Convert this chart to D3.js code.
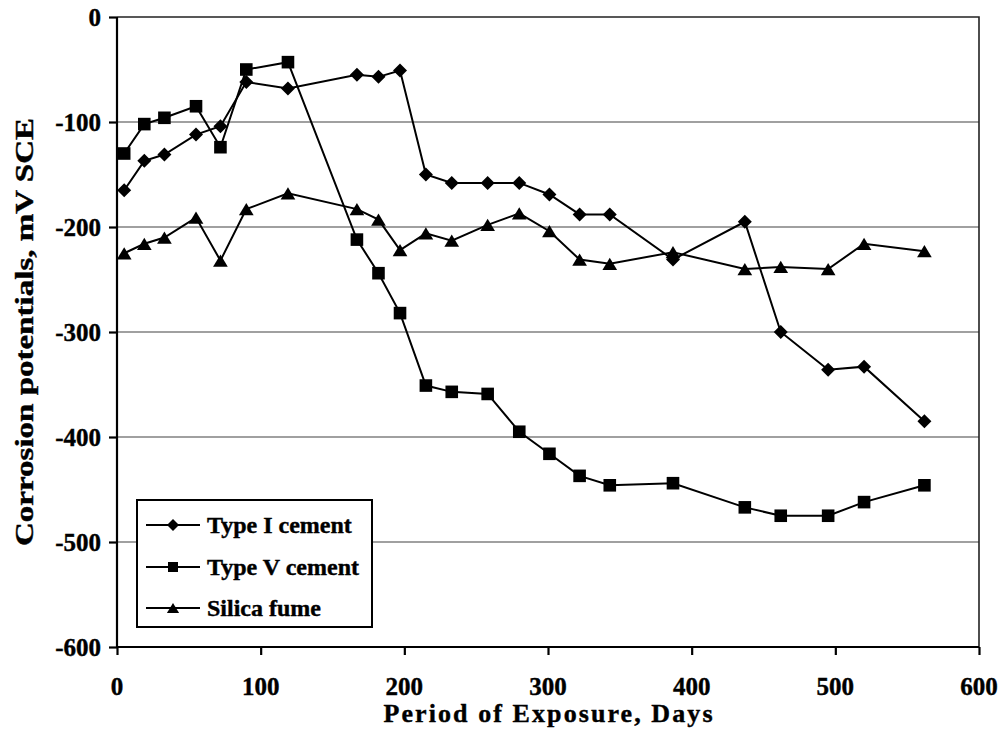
<!DOCTYPE html>
<html>
<head>
<meta charset="utf-8">
<script src="https://cdn.jsdelivr.net/npm/d3@7"></script>
<style>
  html, body { margin: 0; padding: 0; background: #fff; }
  svg { display: block; }
</style>
</head>
<body>
<svg id="chart" width="1004" height="733"></svg>
<script>
// Exposure days at each measurement
const days = [5, 19, 33, 55, 72, 90, 119, 167, 182, 197, 215, 233, 258, 280, 301, 322, 343, 387, 437, 462, 495, 520, 562];

// Corrosion potentials (mV SCE)
const typeI  = [-165, -137, -131, -112, -104, -62, -68, -55, -57, -51, -150, -158, -158, -158, -169, -188, -188, -231, -195, -300, -336, -333, -385];
const typeV  = [-130, -102, -96, -85, -124, -50, -43, -212, -244, -282, -351, -357, -359, -395, -416, -437, -446, -444, -467, -475, -475, -462, -446];
const silica = [-225, -216, -210, -191, -232, -183, -168, -183, -193, -222, -206, -213, -198, -187, -204, -231, -235, -224, -240, -238, -240, -216, -223];

const seriesNames = ["Type I cement", "Type V cement", "Silica fume"];
const seriesShapes = ["diamond", "square", "triangle"];

const xTicks = [0, 100, 200, 300, 400, 500, 600];
const yTicks = [0, -100, -200, -300, -400, -500, -600];

const xTitle = "Period of Exposure, Days";
const yTitle = "Corrosion potentials, mV SCE";

const FONT = "'Liberation Serif', 'Times New Roman', serif";

const svg = d3.select("#chart");
const plotL = 117, plotR = 979, plotT = 17, plotB = 647;

const x = d3.scaleLinear().domain([0, 600]).range([plotL, plotR]);
const y = d3.scaleLinear().domain([0, -600]).range([plotT, plotB]);

// marker outlines centred on the origin
function shapePath(kind, s) {
  if (kind === "diamond") return `M0,${-s}L${s},0L0,${s}L${-s},0Z`;
  if (kind === "square") return `M${-s},${-s}H${s}V${s}H${-s}Z`;
  const h = s * 1.75, w = s * 2.1;
  return `M0,${-h / 2}L${w / 2},${h / 2}L${-w / 2},${h / 2}Z`;
}
const plotSize = { diamond: 7, square: 6.3, triangle: 7 };
const legendSize = { diamond: 6, square: 5, triangle: 5.8 };

function label(sel) {
  return sel.attr("font-family", FONT).attr("font-weight", "bold")
    .attr("fill", "#000").attr("stroke", "#000").attr("stroke-width", 0.4);
}

svg.append("rect").attr("width", 1004).attr("height", 733).attr("fill", "#fff");

// horizontal gridlines
svg.append("g")
  .selectAll("line")
  .data(yTicks.filter(v => v !== 0 && v !== -600))
  .join("line")
  .attr("x1", plotL).attr("x2", plotR)
  .attr("y1", d => y(d)).attr("y2", d => y(d))
  .attr("stroke", "#808080").attr("stroke-width", 1.4);

// plot frame (top and right)
svg.append("path")
  .attr("d", `M${plotL},${plotT}H${plotR}V${plotB}`)
  .attr("fill", "none").attr("stroke", "#222").attr("stroke-width", 1.6);

// axes
const xAxis = d3.axisBottom(x).tickValues(xTicks).tickSize(8).tickFormat("");
const yAxis = d3.axisLeft(y).tickValues(yTicks).tickSize(8).tickFormat("");

const gx = svg.append("g").attr("transform", `translate(0,${plotB})`).call(xAxis);
const gy = svg.append("g").attr("transform", `translate(${plotL},0)`).call(yAxis);
[gx, gy].forEach(g => {
  g.select(".domain").attr("stroke", "#000").attr("stroke-width", 2.2);
  g.selectAll(".tick line").attr("stroke", "#000").attr("stroke-width", 2.2);
});
gx.select(".domain").attr("d", `M${plotL},0H${plotR}`);
gy.select(".domain").attr("d", `M0,${plotT}V${plotB}`);

// tick labels
svg.append("g").selectAll("text").data(xTicks).join("text")
  .call(label)
  .attr("x", d => x(d)).attr("y", 695)
  .attr("text-anchor", "middle").attr("font-size", 25)
  .text(d => d);

svg.append("g").selectAll("text").data(yTicks).join("text")
  .call(label)
  .attr("x", 101).attr("y", d => y(d) + 9)
  .attr("text-anchor", "end").attr("font-size", 25)
  .text(d => d);

// axis titles
svg.append("text").call(label)
  .attr("x", (plotL + plotR) / 2).attr("y", 722)
  .attr("text-anchor", "middle").attr("font-size", 26)
  .attr("textLength", 329).attr("lengthAdjust", "spacing")
  .text(xTitle);

svg.append("text").call(label)
  .attr("transform", `translate(33,${(plotT + plotB) / 2}) rotate(-90)`)
  .attr("text-anchor", "middle").attr("font-size", 25)
  .attr("textLength", 428).attr("lengthAdjust", "spacingAndGlyphs")
  .text(yTitle);

// series lines and markers
const allSeries = [typeI, typeV, silica];
const line = d3.line().x(d => x(d[0])).y(d => y(d[1]));

allSeries.forEach((vals, i) => {
  const pts = days.map((d, j) => [d, vals[j]]);
  const g = svg.append("g");
  g.append("path").attr("d", line(pts))
    .attr("fill", "none").attr("stroke", "#000").attr("stroke-width", 2);
  g.selectAll("path.mk").data(pts).join("path").attr("class", "mk")
    .attr("transform", d => `translate(${x(d[0])},${y(d[1])})`)
    .attr("d", shapePath(seriesShapes[i], plotSize[seriesShapes[i]]))
    .attr("fill", "#000");
});

// legend
const lg = svg.append("g");
lg.append("rect").attr("x", 137).attr("y", 500).attr("width", 235).attr("height", 127)
  .attr("fill", "#fff").attr("stroke", "#000").attr("stroke-width", 2);
const rowY = [525, 567, 608];
seriesNames.forEach((name, i) => {
  lg.append("line").attr("x1", 146).attr("x2", 200).attr("y1", rowY[i]).attr("y2", rowY[i])
    .attr("stroke", "#000").attr("stroke-width", 2);
  lg.append("path").attr("transform", `translate(173,${rowY[i]})`)
    .attr("d", shapePath(seriesShapes[i], legendSize[seriesShapes[i]]))
    .attr("fill", "#000");
  lg.append("text").call(label).attr("x", 207).attr("y", rowY[i] + 8)
    .attr("font-size", 24).text(name);
});
</script>
</body>
</html>
